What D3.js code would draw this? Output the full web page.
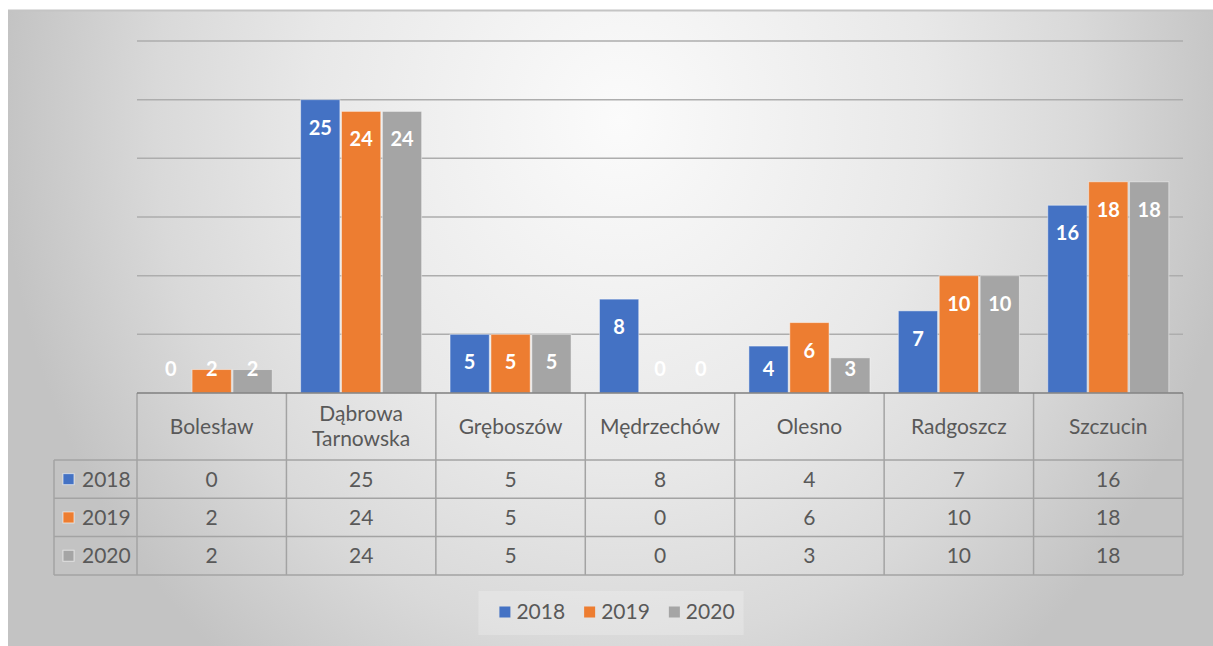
<!doctype html>
<head>
<meta charset="utf-8">
<style>
  body { margin: 0; background: #fff; }
  svg { display: block; font-family: Lato, "Open Sans", sans-serif; }
</style>
<script src="https://cdnjs.cloudflare.com/ajax/libs/d3/7.8.5/d3.min.js"></script>
</head>
<body>
<script>
// chart data
var categories = ["Bolesław", "Dąbrowa Tarnowska", "Gręboszów", "Mędrzechów", "Olesno", "Radgoszcz", "Szczucin"];
var seriesNames = ["2018", "2019", "2020"];
var values2018 = [0, 25, 5, 8, 4, 7, 16];
var values2019 = [2, 24, 5, 0, 6, 10, 18];
var values2020 = [2, 24, 5, 0, 3, 10, 18];
var colors = ["#4472C4", "#ED7D31", "#A5A5A5"];
var gridTicks = [5, 10, 15, 20, 25, 30];

var series = [values2018, values2019, values2020];

var W = 1213, H = 646;
var plotLeft = 137, plotRight = 1183, base = 393, plotTop = 41;
var headerH = 67, rowH = 38.3, rowLabelX = 54;

var svg = d3.select("body").append("svg").attr("width", W).attr("height", H);

// background gradient (excel style), elliptical around top centre
var defs = svg.append("defs");
var grad = defs.append("radialGradient").attr("id", "bg")
  .attr("gradientUnits", "userSpaceOnUse")
  .attr("cx", 620).attr("cy", 120).attr("r", 620)
  .attr("gradientTransform", "translate(620,120) scale(1,1.13) translate(-620,-120)");
grad.append("stop").attr("offset", "0%").attr("stop-color", "#fbfbfb");
grad.append("stop").attr("offset", "50%").attr("stop-color", "#e8e8e8");
grad.append("stop").attr("offset", "75%").attr("stop-color", "#d9d9d9");
grad.append("stop").attr("offset", "100%").attr("stop-color", "#c3c3c3");

svg.append("rect").attr("x", 8).attr("y", 10).attr("width", W - 8).attr("height", H - 10)
  .attr("fill", "url(#bg)");
svg.append("line").attr("x1", 8).attr("x2", W).attr("y1", 10.5).attr("y2", 10.5)
  .attr("stroke", "#c4c4c4").attr("stroke-width", 2);

var x0 = d3.scaleBand().domain(categories).range([plotLeft, plotRight])
  .paddingInner(0.19).paddingOuter(0.095);
var x1 = d3.scaleBand().domain(seriesNames).range([0, x0.bandwidth()]).paddingInner(0.04);
var y = d3.scaleLinear().domain([0, 30]).range([base, plotTop]);
var step = x0.step();

// gridlines
svg.selectAll(".grid").data(gridTicks).enter().append("line")
  .attr("x1", plotLeft).attr("x2", plotRight)
  .attr("y1", d => y(d)).attr("y2", d => y(d))
  .attr("stroke", "#adadad").attr("stroke-width", 1.5);

// bars
var groups = svg.selectAll(".grp").data(categories).enter().append("g")
  .attr("transform", d => "translate(" + x0(d) + ",0)");

groups.each(function(c, ci) {
  var g = d3.select(this);
  seriesNames.forEach(function(s, si) {
    var v = series[si][ci];
    g.append("rect")
      .attr("x", x1(s)).attr("y", y(v))
      .attr("width", x1.bandwidth()).attr("height", base - y(v))
      .attr("fill", colors[si])
      .attr("stroke", "#ffffff").attr("stroke-opacity", 0.45).attr("stroke-width", 1);
    g.append("text")
      .attr("x", x1(s) + x1.bandwidth() / 2)
      .attr("y", Math.min(y(v) + 28, 369))
      .attr("dy", "0.35em")
      .attr("text-anchor", "middle")
      .attr("fill", "#fff")
      .style("font-size", "20px").style("font-weight", "bold")
      .text(v);
  });
});

// data table
var tbl = svg.append("g");
var lineCol = "#a3a3a3";
var rowsTop = base + headerH;
var bottom = rowsTop + rowH * 3;

// vertical lines
d3.range(categories.length + 1).forEach(function(i) {
  tbl.append("line").attr("x1", plotLeft + i * step).attr("x2", plotLeft + i * step)
    .attr("y1", base).attr("y2", bottom)
    .attr("stroke", lineCol).attr("stroke-width", 1.5);
});
tbl.append("line").attr("x1", rowLabelX).attr("x2", rowLabelX)
  .attr("y1", rowsTop).attr("y2", bottom)
  .attr("stroke", lineCol).attr("stroke-width", 1.5);
// horizontal lines
d3.range(4).forEach(function(i) {
  var yy = rowsTop + i * rowH;
  tbl.append("line").attr("x1", rowLabelX).attr("x2", plotRight)
    .attr("y1", yy).attr("y2", yy)
    .attr("stroke", lineCol).attr("stroke-width", 1.5);
});
// axis line
tbl.append("line").attr("x1", plotLeft).attr("x2", plotRight)
  .attr("y1", base).attr("y2", base)
  .attr("stroke", "#7f7f7f").attr("stroke-width", 1.5);

// header labels
categories.forEach(function(c) {
  var cx = x0(c) + x0.bandwidth() / 2;
  var words = c.split(" ");
  var t = tbl.append("text").attr("text-anchor", "middle")
    .attr("fill", "#595959").style("font-size", "21px");
  var lh = 25;
  var y0 = base + headerH / 2 - (words.length - 1) * lh / 2;
  words.forEach(function(w, wi) {
    t.append("tspan").attr("x", cx).attr("y", y0 + wi * lh).attr("dy", "0.35em").text(w);
  });
});

// rows
seriesNames.forEach(function(s, si) {
  var cy = rowsTop + si * rowH + rowH / 2;
  tbl.append("rect").attr("x", 63).attr("y", cy - 5.5).attr("width", 11).attr("height", 11)
    .attr("fill", colors[si]).attr("stroke", "#fff").attr("stroke-opacity", 0.6);
  tbl.append("text").attr("x", 82).attr("y", cy).attr("dy", "0.35em")
    .attr("fill", "#595959").style("font-size", "21px").text(s);
  categories.forEach(function(c, ci) {
    tbl.append("text").attr("x", x0(c) + x0.bandwidth() / 2).attr("y", cy).attr("dy", "0.35em")
      .attr("text-anchor", "middle")
      .attr("fill", "#595959").style("font-size", "21px").text(series[si][ci]);
  });
});

// legend
var leg = svg.append("g");
var legBox = leg.append("rect").attr("fill", "#ffffff").attr("fill-opacity", 0.22);
var lx = 0;
seriesNames.forEach(function(s, si) {
  var it = leg.append("g").attr("transform", "translate(" + lx + ",0)");
  it.append("rect").attr("x", 0).attr("y", -5.5).attr("width", 11).attr("height", 11)
    .attr("fill", colors[si]);
  var t = it.append("text").attr("x", 17).attr("y", 0).attr("dy", "0.35em")
    .attr("fill", "#595959").style("font-size", "21px").text(s);
  lx += 17 + t.node().getComputedTextLength() + 19;
});
lx -= 19;
legBox.attr("x", -21).attr("y", -21).attr("width", lx + 30).attr("height", 44);
leg.attr("transform", "translate(" + (617 - lx / 2) + ",612)");
</script>
</body>
